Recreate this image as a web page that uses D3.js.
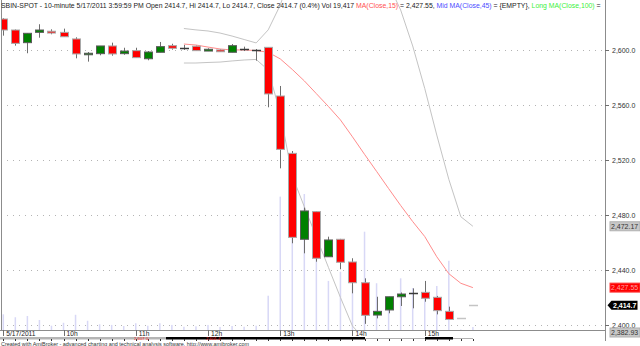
<!DOCTYPE html>
<html>
<head>
<meta charset="utf-8">
<script src="https://cdnjs.cloudflare.com/ajax/libs/d3/7.8.5/d3.min.js"></script>
<style>
  body { margin: 0; background: #fff; }
  svg { display: block; font-family: "Liberation Sans", Arial, sans-serif; }
</style>
</head>
<body>
<svg id="chart" width="640" height="346"></svg>
<script>
// 10-minute bars, SBIN-SPOT 5/17/2011
var opens  = [2622.9, 2614.9, 2605.7, 2613.2, 2614.0, 2613.2, 2608.4, 2596.9, 2597.7, 2603.3,
              2597.7, 2599.9, 2594.0, 2598.7, 2603.5, 2602.0, 2603.1, 2599.6, 2600.4, 2598.7,
              2601.1, 2600.5, 2602.3, 2566.9, 2525.2, 2462.7, 2482.8, 2450.0, 2462.7, 2446.2,
              2431.1, 2407.6, 2411.3, 2420.9, 2423.6, 2424.1, 2420.5, 2410.3, 2405.1, 2414.7];
var highs  = [2623.5, 2615.3, 2612.5, 2619.1, 2615.4, 2615.9, 2609.6, 2598.9, 2603.3, 2605.7,
              2602.0, 2602.0, 2599.6, 2606.2, 2604.9, 2604.0, 2603.5, 2601.6, 2600.8, 2604.7,
              2602.8, 2601.1, 2602.3, 2574.2, 2526.9, 2485.7, 2483.0, 2464.6, 2463.0, 2448.9,
              2434.3, 2420.9, 2420.9, 2424.0, 2427.0, 2432.4, 2421.5, 2413.7, 2405.1, 2414.7];
var lows   = [2610.8, 2603.5, 2598.0, 2609.3, 2611.8, 2610.0, 2594.3, 2591.9, 2596.5, 2596.2,
              2596.9, 2594.8, 2592.9, 2598.7, 2600.6, 2600.4, 2599.9, 2599.6, 2599.1, 2598.7,
              2599.6, 2592.6, 2558.7, 2514.3, 2459.8, 2452.5, 2446.4, 2450.0, 2440.9, 2423.4,
              2401.2, 2405.2, 2408.9, 2414.2, 2412.5, 2417.3, 2408.1, 2404.4, 2405.1, 2414.7];
var closes = [2614.9, 2605.2, 2612.5, 2614.9, 2612.7, 2610.0, 2597.5, 2598.0, 2603.3, 2597.5,
              2599.6, 2594.8, 2598.9, 2602.8, 2601.6, 2602.0, 2599.9, 2600.9, 2599.1, 2603.5,
              2601.1, 2600.5, 2568.4, 2528.1, 2464.1, 2483.3, 2448.9, 2462.2, 2446.0, 2431.1,
              2407.4, 2410.3, 2420.9, 2422.9, 2423.6, 2419.8, 2410.8, 2404.4, 2405.1, 2414.7];
// volume in thousands
var volumes = [102, 83, 91, 65, 28, 47, 99, 60, 37, 33,
               26, 44, 28, 44, 33, 21, 24, 33, 20, 26,
               21, 28, 223, 867, 748, 884, 520, 319, 379, 293,
               639, 304, 195, 336, 273, 228, 286, 450, 3, 19.4];

// indicator lines start at bar 15
var lineStart = 15;
var ma15    = [2604.7, 2604.0, 2602.5, 2601.1, 2600.4, 2600.4, 2600.0, 2598.7, 2593.9, 2586.2,
               2577.9, 2568.6, 2559.3, 2549.5, 2537.2, 2524.5, 2512.1, 2499.6, 2487.3, 2475.6,
               2464.7, 2450.0, 2437.7, 2430.7, 2427.55];
var bbUpper = [2616.0, 2615.0, 2614.2, 2612.7, 2610.5, 2608.0, 2605.5, 2615.0, 2633.0, 2659.0,
               2672.0, 2682.0, 2690.0, 2694.0, 2692.0, 2685.0, 2670.0, 2648.0, 2629.5, 2603.3,
               2572.4, 2538.5, 2506.3, 2479.1, 2472.17];
var bbLower = [2590.9, 2590.9, 2591.3, 2591.6, 2592.4, 2593.1, 2593.5, 2585.8, 2554.5, 2508.7,
               2486.4, 2464.4, 2442.3, 2420.4, 2399.6, 2390.0, 2380.0, 2374.0, 2370.0, 2368.0,
               2369.0, 2372.0, 2375.0, 2379.0, 2382.93];

var priceTicks = [2400, 2440, 2480, 2520, 2560, 2600];
var timeLabels = ["5/17/2011", "10h", "11h", "12h", "13h", "14h", "15h"];
var timeLabelBars = [0, 5, 11, 17, 23, 29, 35];

var boxValues = [2472.17, 2427.55, 2414.7, 2382.93];
var boxKinds  = ["gray", "red", "last", "gray"];

var fmt = d3.format(",.1f");

var svg = d3.select("#chart");
var plot = {left: 1, right: 605, top: 0, bottom: 330};

var x = d3.scaleLinear().domain([0, 39]).range([3.3, 472.9]);
var y = d3.scaleLinear().domain([2396.727, 2636.727]).range([330, 0]);
var yv = d3.scaleLinear().domain([0, 2145]).range([330, 0]);

svg.append("defs").append("clipPath").attr("id", "clip")
  .append("rect")
    .attr("x", plot.left).attr("y", plot.top)
    .attr("width", plot.right - plot.left).attr("height", plot.bottom - plot.top);

var g = svg.append("g").attr("clip-path", "url(#clip)");

// grid
g.selectAll(".grid").data(priceTicks).enter().append("line")
  .attr("x1", plot.left).attr("x2", plot.right)
  .attr("y1", function(d) { return Math.round(y(d)) + 0.5; })
  .attr("y2", function(d) { return Math.round(y(d)) + 0.5; })
  .attr("stroke", "#b4b4b4")
  .attr("stroke-dasharray", "1,5");

// volume
g.selectAll(".vol").data(volumes).enter().append("rect")
  .attr("x", function(d, i) { return x(i) - 0.75; })
  .attr("width", 1.5)
  .attr("y", function(d) { return yv(d); })
  .attr("height", function(d) { return 330 - yv(d); })
  .attr("fill", "#d8d8f6");

// bands and moving average
function drawLine(vals, color) {
  var line = d3.line()
    .x(function(d, i) { return x(i + lineStart); })
    .y(function(d) { return y(d); });
  g.append("path").datum(vals)
    .attr("d", line)
    .attr("fill", "none")
    .attr("stroke", color)
    .attr("stroke-width", 1);
}
drawLine(bbUpper, "#c4c4c4");
drawLine(bbLower, "#c4c4c4");
drawLine(ma15, "#ff8c8c");

// candles
var bars = d3.range(opens.length);
var candle = g.selectAll(".candle").data(bars).enter().append("g");

candle.append("line")
  .attr("x1", function(i) { return Math.round(x(i)) + 0.5; })
  .attr("x2", function(i) { return Math.round(x(i)) + 0.5; })
  .attr("y1", function(i) { return y(highs[i]); })
  .attr("y2", function(i) { return y(lows[i]); })
  .attr("stroke", "#6e6e6e");

candle.each(function(i) {
  var c = d3.select(this),
      cx = Math.round(x(i)) + 0.5,
      top = y(Math.max(opens[i], closes[i])),
      bot = y(Math.min(opens[i], closes[i]));
  if (bot - top < 1.2) {
    c.append("line")
      .attr("x1", cx - 4.5).attr("x2", cx + 4.5)
      .attr("y1", Math.round(top) + 0.5).attr("y2", Math.round(top) + 0.5)
      .attr("stroke", highs[i] == lows[i] ? "#c4c4c4" : "#3a3a3a")
      .attr("stroke-width", 1.5);
  } else {
    var up = closes[i] > opens[i];
    c.append("rect")
      .attr("x", cx - 4).attr("width", 8)
      .attr("y", top).attr("height", bot - top)
      .attr("fill", up ? "#008000" : "#ff0000")
      .attr("stroke", up ? "#5a5a5a" : "#a8a8a8")
      .attr("stroke-width", 1);
  }
});

// frame
svg.append("line").attr("x1", 1.5).attr("x2", 1.5).attr("y1", 0).attr("y2", 330)
  .attr("stroke", "#8c8c8c");
svg.append("line").attr("x1", 605.5).attr("x2", 605.5).attr("y1", 0).attr("y2", 341)
  .attr("stroke", "#8c8c8c");
svg.append("line").attr("x1", 0).attr("x2", 606).attr("y1", 330.5).attr("y2", 330.5)
  .attr("stroke", "#8c8c8c");

// right axis
var yAxis = svg.append("g");
yAxis.selectAll("line").data(priceTicks).enter().append("line")
  .attr("x1", 605).attr("x2", 609)
  .attr("y1", function(d) { return Math.round(y(d)) + 0.5; })
  .attr("y2", function(d) { return Math.round(y(d)) + 0.5; })
  .attr("stroke", "#6e6e6e");
yAxis.selectAll("text").data(priceTicks).enter().append("text")
  .attr("x", 612)
  .attr("y", function(d) { return y(d); })
  .attr("dy", "0.35em")
  .attr("font-size", 7)
  .attr("fill", "#333")
  .text(function(d) { return fmt(d); });

// value boxes on the axis
boxValues.forEach(function(v, k) {
  var cy = Math.min(y(v), 332.5),
      kind = boxKinds[k],
      label = kind == "last" ? fmt(v) : d3.format(",.2f")(v),
      bg = svg.append("g");
  if (kind == "last") {
    bg.append("path")
      .attr("d", "M607.5," + cy + "L611.5," + (cy - 4.5) + "L637.5," + (cy - 4.5) +
                 "L637.5," + (cy + 4.5) + "L611.5," + (cy + 4.5) + "Z")
      .attr("fill", "#000");
    bg.append("text").attr("x", 613).attr("y", cy).attr("dy", "0.36em")
      .attr("font-size", 7).attr("font-weight", "bold").attr("fill", "#fff").text(label);
  } else {
    bg.append("rect")
      .attr("x", 610).attr("y", cy - 4.5).attr("width", 30).attr("height", 9)
      .attr("fill", kind == "red" ? "#ff0000" : "#c8c8c8")
      .attr("stroke", kind == "red" ? "#ff4040" : "#b0b0b0");
    bg.append("text").attr("x", 611).attr("y", cy).attr("dy", "0.36em")
      .attr("font-size", 7).attr("fill", kind == "red" ? "#ffa0a0" : "#333").text(label);
  }
});

// bottom time axis
var xAxis = svg.append("g");
xAxis.selectAll("line").data(timeLabelBars).enter().append("line")
  .attr("x1", function(d) { return Math.round(x(d)) + 0.5; })
  .attr("x2", function(d) { return Math.round(x(d)) + 0.5; })
  .attr("y1", 330).attr("y2", 336)
  .attr("stroke", "#6e6e6e");
xAxis.selectAll("text").data(timeLabels).enter().append("text")
  .attr("x", function(d, i) { return x(timeLabelBars[i]) + 3; })
  .attr("y", 336.3)
  .attr("font-size", 6.7)
  .attr("fill", "#222")
  .text(function(d) { return d; });

// strip under the axis
svg.append("line").attr("x1", 0).attr("x2", 473).attr("y1", 338.5).attr("y2", 338.5)
  .attr("stroke", "#7a7a7a").attr("stroke-width", 0.6);
svg.append("rect").attr("x", 0).attr("y", 337).attr("width", 166).attr("height", 2.5).attr("fill", "#b4b4b4");
svg.append("rect").attr("x", 166).attr("y", 337).attr("width", 199).attr("height", 2.5).attr("fill", "#000");
svg.append("rect").attr("x", 425).attr("y", 337).attr("width", 28).attr("height", 2.5).attr("fill", "#000");
svg.selectAll(".dot").data(bars).enter().append("rect")
  .attr("x", function(i) { return Math.round(x(i)); })
  .attr("y", 339).attr("width", 1).attr("height", 2)
  .attr("fill", "#333");
svg.append("text").attr("x", 134).attr("y", 340.3).attr("font-size", 4.3).attr("fill", "#ff2020").text("2,607.0");
svg.append("text").attr("x", 206).attr("y", 340.3).attr("font-size", 4.3).attr("fill", "#ff2020").text("2,601.4");

svg.append("text")
  .attr("x", 1).attr("y", 345.8)
  .attr("font-size", 5.4)
  .attr("fill", "#333")
  .attr("textLength", 248)
  .attr("lengthAdjust", "spacingAndGlyphs")
  .text("Created with AmiBroker - advanced charting and technical analysis software. http://www.amibroker.com");

// title
var title = svg.append("text").attr("x", 0).attr("y", 0).attr("font-size", 7);
var parts = [
  ["SBIN-SPOT - 10-minute 5/17/2011 3:59:59 PM Open 2414.7, Hi 2414.7, Lo 2414.7, Close 2414.7 (0.4%) Vol 19,417 ", "#222"],
  ["MA(Close,15)", "#ff5050"],
  [" = 2,427.55, ", "#222"],
  ["Mid MA(Close,45)", "#4b4bff"],
  [" = {EMPTY}, ", "#222"],
  ["Long MA(Close,100)", "#3cf03c"],
  [" =", "#222"]
];
parts.forEach(function(p) {
  title.append("tspan").attr("fill", p[1]).text(p[0]);
});
var tw = title.node().getComputedTextLength();
title.attr("transform", "translate(1,7.5) scale(" + (600 / tw) + ",1)");
</script>
</body>
</html>
